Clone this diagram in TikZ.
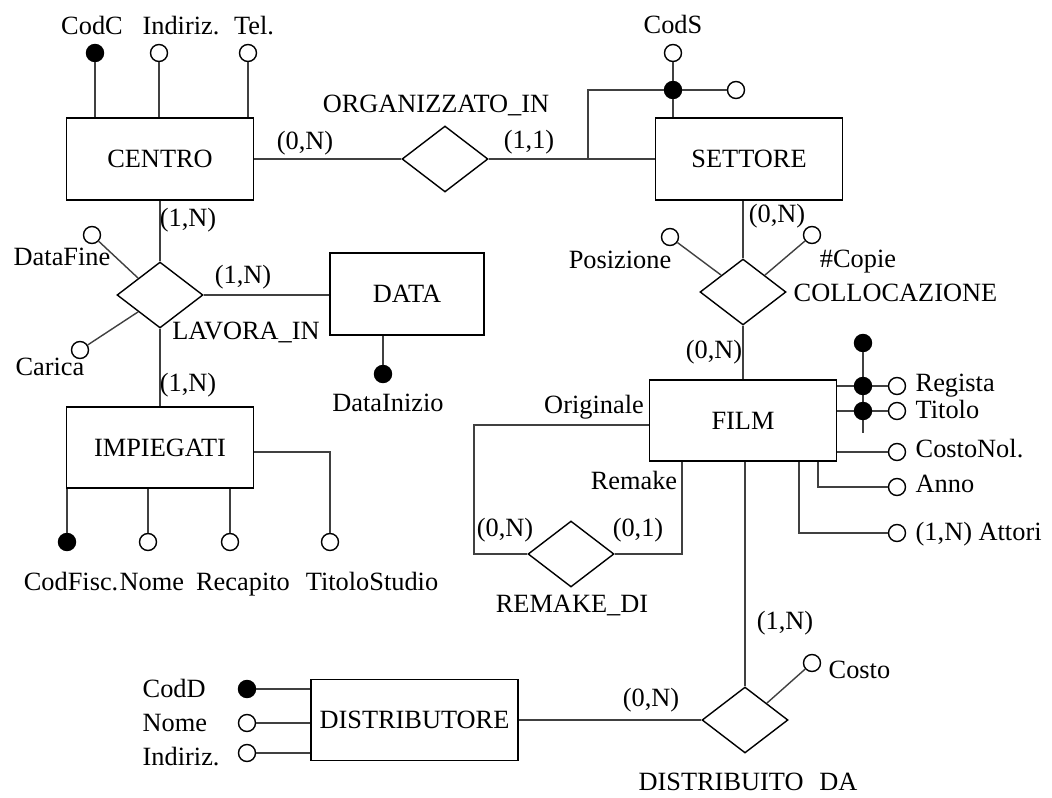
\documentclass[tikz,border=0pt]{standalone}
\usepackage{fontspec}
\setmainfont{Liberation Serif}
\usepackage{tikz}
\usetikzlibrary{shapes.geometric}

\begin{document}
\begin{tikzpicture}[x=0.02cm,y=-0.02cm,line width=0.8pt,
        font=\fontsize{15}{18}\selectfont,
        entity/.style={draw,rectangle,minimum width=3.74cm,minimum height=1.64cm,inner sep=1pt},
        relation/.style={draw,diamond,minimum width=1.72cm,minimum height=1.32cm,inner sep=0pt},
        attr/.style={draw,circle,minimum size=0.34cm,inner sep=0pt,fill=white},
        keyattr/.style={attr,fill=black},
        link/.style={black!75}]
        \useasboundingbox (0,0) rectangle (1052,798);

        % Entities
        \node[entity] (centro) at (160,159) {CENTRO};
        \node[entity] (settore) at (749,159) {SETTORE};
        \node[entity,minimum width=3.08cm] (data) at (407,294) {DATA};
        \node[entity,minimum height=1.62cm] (impiegati) at (160,447.5) {IMPIEGATI};
        \node[entity,minimum height=1.62cm] (film) at (743,420.5) {FILM};
        \node[entity,minimum width=4.14cm,minimum height=1.62cm] (distributore) at (414.5,720) {DISTRIBUTORE};

        % Relationships
        \node[relation] (organizzato) at (445,159) {};
        \node[relation] (lavora) at (160,295) {};
        \node[relation] (collocazione) at (743,292) {};
        \node[relation] (remake) at (571,554) {};
        \node[relation] (distribuito) at (745,720) {};
        \node (organizzatoname) at (436,105) {ORGANIZZATO\_IN};
        \node (lavoraname) at (246,332) {LAVORA\_IN};
        \node[anchor=west,inner sep=0pt] (collocazionename) at (793,293) {COLLOCAZIONE};
        \node (remakename) at (572,605) {REMAKE\_DI};
        \node (distribuitoname) at (748,782) {DISTRIBUITO\hspace{0.6em}DA};

        % CENTRO - ORGANIZZATO_IN - SETTORE
        \draw[link] (centro.east) -- (organizzato.west);
        \draw[link] (organizzato.east) -- (settore.west);
        \node (card1) at (305,143) {(0,N)};
        \node (card2) at (529,142) {(1,1)};

        % CENTRO attributes
        \node[keyattr] (codc) at (95,53) {};
        \node[attr] (indirizc) at (159,53) {};
        \node[attr] (tel) at (248,53) {};
        \foreach \a in {codc,indirizc,tel} {
            \draw[link] (\a) -- (\a |- centro.north);
        }
        \node[anchor=base] (codcname) at (92,34) {CodC};
        \node[anchor=base] (indirizcname) at (181,34) {Indiriz.};
        \node[anchor=base] (telname) at (254,34) {Tel.};

        % SETTORE identifier
        \coordinate (settorecorner) at (588,90);
        \node[keyattr] (settorekey) at (673,90) {};
        \node[attr] (cods) at (673,53) {};
        \node[attr] (settoreextra) at (736,90) {};
        \draw[link] (cods) -- (settorekey) -- (settorekey |- settore.north);
        \draw[link] (settoreextra) -- (settorekey) -- (settorecorner) -- (settorecorner |- settore.west);
        \node[anchor=base] (codsname) at (673,33) {CodS};

        % LAVORA_IN
        \draw[link] (centro.south) -- (lavora.north);
        \draw[link] (lavora.east) -- (lavora.east -| data.west);
        \draw[link] (lavora.south) -- (impiegati.north);
        \node[attr] (datafine) at (92,235) {};
        \node[attr] (carica) at (80,350) {};
        \draw[link] (datafine) -- (lavora.north west);
        \draw[link] (carica) -- (lavora.south west);
        \node (datafinename) at (62,257) {DataFine};
        \node (caricaname) at (50,367) {Carica};
        \node (card3) at (188,220) {(1,N)};
        \node (card4) at (243,277) {(1,N)};
        \node (card5) at (188,385) {(1,N)};

        % DATA attributes
        \node[keyattr] (datainizio) at (383,374) {};
        \draw[link] (datainizio) -- (datainizio |- data.south);
        \node (datainizioname) at (388,403) {DataInizio};

        % IMPIEGATI attributes
        \node[keyattr] (codfisc) at (67,542) {};
        \node[attr] (nomei) at (148,542) {};
        \node[attr] (recapito) at (230,542) {};
        \node[attr] (titolostudio) at (330,542) {};
        \foreach \a in {codfisc,nomei,recapito} {
            \draw[link] (\a) -- (\a |- impiegati.south);
        }
        \coordinate (titolobend) at (330,452);
        \draw[link] (titolostudio) -- (titolobend) -- (titolobend -| impiegati.east);
        \node[anchor=base east,inner sep=0pt] (codfiscname) at (119,590) {CodFisc.};
        \node[anchor=base west,inner sep=0pt] (nomeiname) at (119,590) {Nome};
        \node[anchor=base] (recapitoname) at (243,590) {Recapito};
        \node[anchor=base] (titolostudioname) at (372,590) {TitoloStudio};

        % COLLOCAZIONE
        \draw[link] (collocazione.north) -- (collocazione.north |- settore.south);
        \draw[link] (collocazione.south) -- (collocazione.south |- film.north);
        \node[attr] (posizione) at (670,237) {};
        \node[attr] (copie) at (812,235) {};
        \draw[link] (posizione) -- (collocazione.north west);
        \draw[link] (copie) -- (collocazione.north east);
        \node (posizionename) at (620,260) {Posizione};
        \node (copiename) at (858,262) {\#Copie};
        \node (card6) at (777,216) {(0,N)};
        \node (card7) at (714,352) {(0,N)};

        % FILM attributes
        \node[keyattr] (filmtop) at (863,343) {};
        \coordinate (filmkeyend) at (863,433);
        \node[attr] (regista) at (897,386) {};
        \node[attr] (titolo) at (897,411) {};
        \node[attr] (costonol) at (897,452) {};
        \node[attr] (anno) at (897,487) {};
        \node[attr] (attori) at (897,533) {};
        \draw[link] (filmtop) -- (filmkeyend);
        \foreach \a in {regista,titolo,costonol} {
            \draw[link] (\a) -- (\a -| film.east);
        }
        \node[keyattr] (registakey) at (863,386) {};
        \node[keyattr] (titolokey) at (863,411) {};
        \coordinate (annobend) at (818,487);
        \draw[link] (anno) -- (annobend) -- (annobend |- film.south);
        \coordinate (attoribend) at (799,533);
        \draw[link] (attori) -- (attoribend) -- (attoribend |- film.south);
        \node[anchor=base west,inner sep=0pt] (registaname) at (915,391) {Regista};
        \node[anchor=base west,inner sep=0pt] (titoloname) at (915,418) {Titolo};
        \node[anchor=base west,inner sep=0pt] (costonolname) at (915,457) {CostoNol.};
        \node[anchor=base west,inner sep=0pt] (annoname) at (915,492) {Anno};
        \node[anchor=base west,inner sep=0pt] (attoriname) at (915,540) {(1,N) Attori};

        % REMAKE_DI loop
        \coordinate (origcorner) at (474,425);
        \draw[link] (film.west |- origcorner) -- (origcorner) -- (origcorner |- remake.west) -- (remake.west);
        \coordinate (remcorner) at (682,554);
        \draw[link] (remake.east) -- (remcorner) -- (remcorner |- film.south);
        \node (originalename) at (594,407) {Originale};
        \node (remakerole) at (634,480) {Remake};
        \node (card8) at (505,530) {(0,N)};
        \node (card9) at (638,530) {(0,1)};

        % DISTRIBUITO DA
        \draw[link] (distribuito.north) -- (distribuito.north |- film.south);
        \draw[link] (distributore.east) -- (distribuito.west);
        \node[attr] (costo) at (812,663) {};
        \draw[link] (costo) -- (distribuito.north east);
        \node[anchor=west,inner sep=0pt] (costoname) at (828,670) {Costo};
        \node (card10) at (785,623) {(1,N)};
        \node (card11) at (651,700) {(0,N)};

        % DISTRIBUTORE attributes
        \node[keyattr] (codd) at (247,689) {};
        \node[attr] (nomed) at (247,723) {};
        \node[attr] (indirizd) at (247,753) {};
        \foreach \a in {codd,nomed,indirizd} {
            \draw[link] (\a) -- (\a -| distributore.west);
        }
        \node[anchor=base west,inner sep=0pt] (coddname) at (142,697) {CodD};
        \node[anchor=base west,inner sep=0pt] (nomedname) at (142,731) {Nome};
        \node[anchor=base west,inner sep=0pt] (indirizdname) at (142,765) {Indiriz.};
\end{tikzpicture}
\end{document}
